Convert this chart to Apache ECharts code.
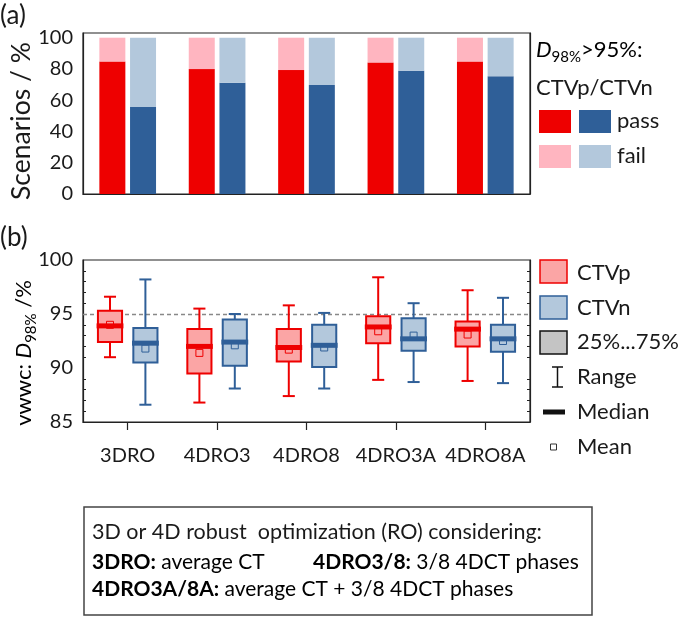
<!DOCTYPE html>
<html>
<head>
<meta charset="utf-8">
<script src="https://cdn.jsdelivr.net/npm/echarts@6/dist/echarts.min.js"></script>
<style>
  html, body { margin: 0; padding: 0; background: #fff; }
  #container { width: 679px; height: 617px; }
</style>
</head>
<body>
<div id="container"></div>
<script>
// categories
var categories = ['3DRO', '4DRO3', '4DRO8', '4DRO3A', '4DRO8A'];

// (a) scenarios passing D98% > 95 %, in %
var passP = [84.8, 79.9, 79.3, 84.2, 84.8];
var failP = [15.2, 20.1, 20.7, 15.8, 15.2];
var passN = [55.6, 71.2, 69.7, 78.8, 75.4];
var failN = [44.4, 28.8, 30.3, 21.2, 24.6];

// (b) vwwc D98% statistics: [min, q1, median, q3, max, mean]
var statsP = [
    [91.0, 92.4, 93.9, 95.3, 96.6, 94.0],
    [86.8, 89.5, 92.0, 93.6, 95.5, 91.4],
    [87.4, 90.6, 91.9, 93.6, 95.8, 91.7],
    [88.9, 92.3, 93.8, 94.8, 98.4, 93.4],
    [88.8, 92.0, 93.6, 94.3, 97.2, 93.1]
];
var statsN = [
    [86.6, 90.5, 92.3, 93.7, 98.2, 91.8],
    [88.1, 90.2, 92.4, 94.5, 95.0, 92.1],
    [88.1, 90.1, 92.1, 94.0, 95.1, 91.9],
    [88.7, 91.6, 92.7, 94.6, 96.0, 93.0],
    [88.6, 91.5, 92.7, 94.0, 96.5, 92.5]
];
var threshold = 95;

var topTicks = [0, 20, 40, 60, 80, 100];
var topMinor = [0, 10, 20, 30, 40, 50, 60, 70, 80, 90, 100];

var RED = '#ee0000', PINK = '#ffb5c0';
var BLUE = '#2f5f98', LBLUE = '#b3c8dc';
var RED_FILL = '#fba5a5', BLUE_FILL = '#b3c8dc';
var FONT = 'Lato';
var INK = '#1a1a1a';

var myChart = echarts.init(document.getElementById('container'));

function boxItem(side, stroke, fill) {
    return function (params, api) {
        var cat = api.value(0);
        var band = api.size([1, 0])[0];
        var x = api.coord([cat, 0])[0] + side * band * 0.198;
        var y = function (i) { return api.coord([cat, api.value(i)])[1]; };
        var bw = band * 0.27, cw = band * 0.135, mw = band * 0.3, ms = 7;
        var ln = { stroke: stroke, lineWidth: 2 };
        return {
            type: 'group',
            children: [
                { type: 'line', shape: { x1: x, y1: y(1), x2: x, y2: y(2) }, style: ln },
                { type: 'line', shape: { x1: x, y1: y(4), x2: x, y2: y(5) }, style: ln },
                { type: 'line', shape: { x1: x - cw / 2, y1: y(1), x2: x + cw / 2, y2: y(1) }, style: ln },
                { type: 'line', shape: { x1: x - cw / 2, y1: y(5), x2: x + cw / 2, y2: y(5) }, style: ln },
                { type: 'rect', shape: { x: x - bw / 2, y: y(4), width: bw, height: y(2) - y(4) },
                  style: { fill: fill, stroke: stroke, lineWidth: 2 } },
                { type: 'rect', shape: { x: x - ms / 2, y: y(6) - ms / 2, width: ms, height: ms },
                  style: { fill: 'none', stroke: stroke, lineWidth: 1 } },
                { type: 'line', shape: { x1: x - mw / 2, y1: y(3), x2: x + mw / 2, y2: y(3) },
                  style: { stroke: stroke, lineWidth: 5 } }
            ]
        };
    };
}

function toData(stats) {
    return stats.map(function (s, i) { return [i].concat(s); });
}

var axisLine = { show: true, lineStyle: { color: '#222', width: 1.2 } };
var label20 = { fontFamily: FONT, fontSize: 20, color: INK };

// text element, positioned on the element so rotation works about (x, y)
var t = function (text, x, y, size, extra) {
    var el = { type: 'text', x: x, y: y,
               style: { text: text, fontFamily: FONT, fontSize: size || 22, fill: INK, verticalAlign: 'middle' } };
    if (extra && extra.rotation) el.rotation = extra.rotation;
    if (extra && extra.align) el.style.align = extra.align;
    return el;
};
var r = function (x, y, w, h, fill, stroke, lw) {
    return { type: 'rect', shape: { x: x, y: y, width: w, height: h },
             style: { fill: fill, stroke: stroke || null, lineWidth: lw || 0 } };
};
var l = function (x1, y1, x2, y2, lw) {
    return { type: 'line', shape: { x1: x1, y1: y1, x2: x2, y2: y2 },
             style: { stroke: '#111', lineWidth: lw || 1.5 } };
};
var rt = function (text, rich, x, y) {
    return { type: 'text', x: x, y: y, style: { text: text, rich: rich, verticalAlign: 'middle' } };
};

var subRich = {
    n: { fontFamily: FONT, fontSize: 22, color: INK, lineHeight: 26, verticalAlign: 'top' },
    i: { fontFamily: FONT, fontSize: 22, fontStyle: 'italic', color: INK, lineHeight: 26, verticalAlign: 'top' },
    s: { fontFamily: FONT, fontSize: 15, color: INK, lineHeight: 15, padding: [12, 0, 0, 0], verticalAlign: 'bottom' }
};
var boxRich = {
    b: { fontFamily: FONT, fontSize: 21, fontWeight: 'bold', color: INK },
    n: { fontFamily: FONT, fontSize: 21, color: INK }
};

var option = {
    animation: false,
    backgroundColor: '#fff',
    grid: [
        { left: 83, top: 33, width: 447, height: 161, show: true, borderColor: '#222', borderWidth: 1.2 },
        { left: 83, top: 260, width: 447, height: 162, show: true, borderColor: '#222', borderWidth: 1.2 }
    ],
    xAxis: [
        { type: 'category', gridIndex: 0, data: categories, axisLine: axisLine,
          axisTick: { show: false }, axisLabel: { show: false } },
        { type: 'category', gridIndex: 1, data: categories, axisLine: axisLine,
          axisTick: { show: true, alignWithLabel: true, length: 8, lineStyle: { color: '#222', width: 1.2 } },
          axisLabel: { fontFamily: FONT, fontSize: 20, color: INK, margin: 24, interval: 0 } }
    ],
    yAxis: [
        { type: 'value', gridIndex: 0, min: 0, max: 103, interval: 10, splitLine: { show: false },
          axisLine: axisLine,
          axisTick: { inside: true, length: 6, customValues: topMinor, lineStyle: { color: '#222' } },
          axisLabel: Object.assign({ margin: 10, customValues: topTicks }, label20) },
        { type: 'value', gridIndex: 0, position: 'right', min: 0, max: 103, interval: 10,
          splitLine: { show: false }, axisLine: axisLine,
          axisTick: { inside: true, length: 6, customValues: topMinor, lineStyle: { color: '#222' } },
          axisLabel: { show: false } },
        { type: 'value', gridIndex: 1, min: 85, max: 100, interval: 5, splitLine: { show: false },
          axisLine: axisLine,
          axisTick: { inside: true, length: 5, lineStyle: { color: '#222' } },
          minorTick: { show: true, splitNumber: 5, length: 3, lineStyle: { color: '#222' } },
          axisLabel: Object.assign({ margin: 10 }, label20) },
        { type: 'value', gridIndex: 1, position: 'right', min: 85, max: 100, interval: 5,
          splitLine: { show: false }, axisLine: axisLine,
          axisTick: { inside: true, length: 5, lineStyle: { color: '#222' } },
          minorTick: { show: true, splitNumber: 5, length: 3, lineStyle: { color: '#222' } },
          axisLabel: { show: false } }
    ],
    series: [
        { name: 'CTVp pass', type: 'bar', stack: 'p', xAxisIndex: 0, yAxisIndex: 0, data: passP,
          barWidth: 26, barGap: '18%', itemStyle: { color: RED } },
        { name: 'CTVp fail', type: 'bar', stack: 'p', xAxisIndex: 0, yAxisIndex: 0, data: failP,
          barWidth: 26, barGap: '18%', itemStyle: { color: PINK } },
        { name: 'CTVn pass', type: 'bar', stack: 'n', xAxisIndex: 0, yAxisIndex: 0, data: passN,
          barWidth: 26, barGap: '18%', itemStyle: { color: BLUE } },
        { name: 'CTVn fail', type: 'bar', stack: 'n', xAxisIndex: 0, yAxisIndex: 0, data: failN,
          barWidth: 26, barGap: '18%', itemStyle: { color: LBLUE } },
        { name: 'CTVp', type: 'custom', xAxisIndex: 1, yAxisIndex: 2, data: toData(statsP),
          renderItem: boxItem(-1, RED, RED_FILL), z: 3,
          markLine: { silent: true, symbol: 'none', label: { show: false }, z: 2,
                      lineStyle: { color: '#888', type: [4, 3], width: 1.3 },
                      data: [{ yAxis: threshold }] } },
        { name: 'CTVn', type: 'custom', xAxisIndex: 1, yAxisIndex: 2, data: toData(statsN),
          renderItem: boxItem(1, BLUE, BLUE_FILL), z: 3 }
    ],
    graphic: [
        t('(a)', 0, 16, 26),
        t('(b)', 0, 238, 26),
        t('Scenarios / %', 21, 121, 26.5, { align: 'center', rotation: Math.PI / 2 }),
        { type: 'text', x: 26, y: 353, rotation: Math.PI / 2,
          style: { text: '{n|vwwc: }{i|D}{s|98%}{n| /%}', rich: subRich, align: 'center', verticalAlign: 'middle' } },

        // (a) legend
        rt('{i|D}{s|98%}{n|>95%:}', subRich, 536, 52),
        t('CTVp/CTVn', 536, 88, 22),
        r(539, 110, 32, 23, RED), r(579, 110, 32, 23, BLUE), t('pass', 617, 121, 22),
        r(539, 145, 32, 23, PINK), r(579, 145, 32, 23, LBLUE), t('fail', 617, 156, 22),

        // (b) legend
        r(540, 260, 27, 23, RED_FILL, RED, 1.5), t('CTVp', 577, 273, 22),
        r(540, 296, 27, 23, BLUE_FILL, BLUE, 1.5), t('CTVn', 577, 308, 22),
        r(540, 331, 27, 23, '#c4c4c4', '#111', 1.5), t('25%...75%', 577, 342, 22),
        l(557.5, 367, 557.5, 387), l(552, 367, 563, 367), l(552, 387, 563, 387), t('Range', 577, 377, 22),
        l(543, 412, 565, 412, 5), t('Median', 577, 412, 22),
        { type: 'rect', shape: { x: 550.5, y: 444, width: 6, height: 6 }, style: { fill: 'none', stroke: '#333', lineWidth: 1 } },
        t('Mean', 577, 447, 22),

        // explanation box
        { type: 'rect', shape: { x: 84, y: 507, width: 508, height: 108 },
          style: { fill: '#fff', stroke: '#444', lineWidth: 1.5 } },
        t('3D or 4D robust  optimization (RO) considering:', 92, 532, 21.5),
        rt('{b|3DRO:}{n| average CT}', boxRich, 92, 562),
        rt('{b|4DRO3/8:}{n| 3/8 4DCT phases}', boxRich, 313, 562),
        rt('{b|4DRO3A/8A:}{n| average CT + 3/8 4DCT phases}', boxRich, 92, 589)
    ]
};

myChart.setOption(option);
</script>
</body>
</html>
